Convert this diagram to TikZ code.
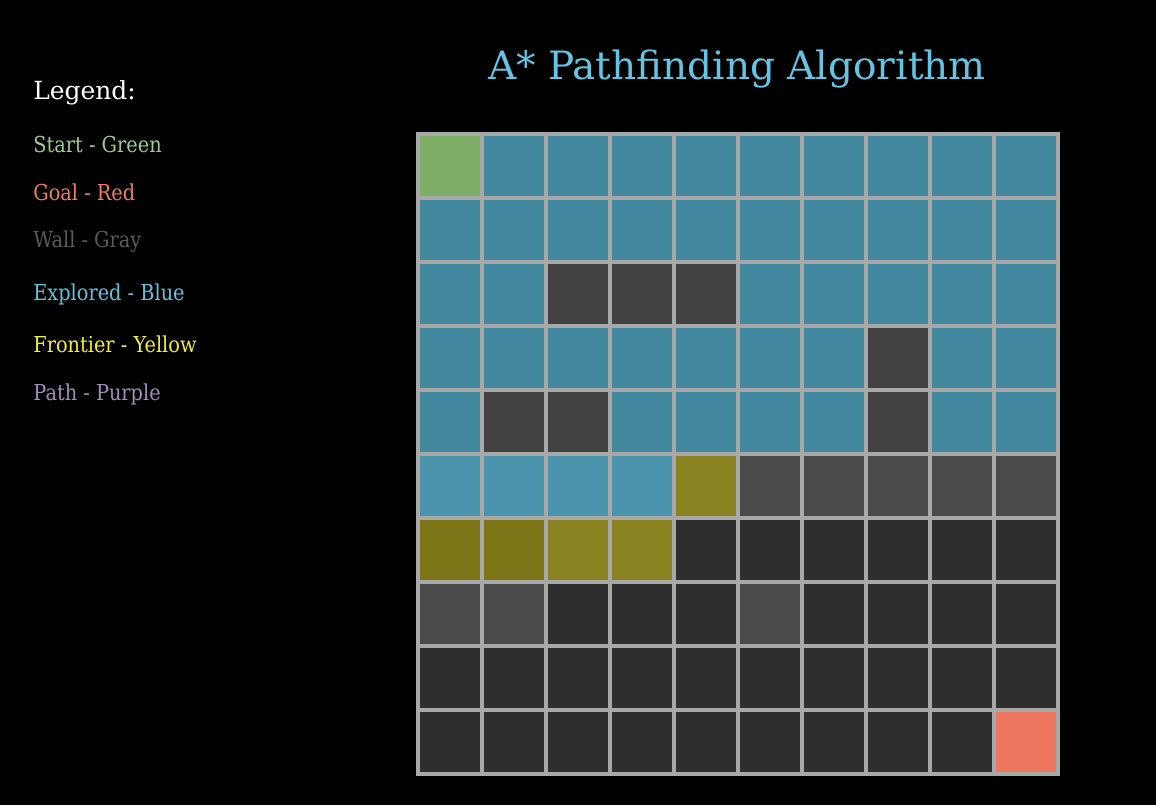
\documentclass[tikz,border=0pt]{standalone}
\usepackage{fontspec}
\setmainfont{DejaVu Serif}
\newfontfamily\legfont[FakeStretch=0.88]{DejaVu Serif}
\usepackage{xcolor}
\definecolor{titleblue}{HTML}{63C5E3}
\definecolor{gridline}{HTML}{A8A8A8}
\definecolor{txtstart}{HTML}{9ECC8A}
\definecolor{txtgoal}{HTML}{F47A62}
\definecolor{txtwall}{HTML}{5A5A5A}
\definecolor{txtexpl}{HTML}{62C3E0}
\definecolor{txtfront}{HTML}{F4F02A}
\definecolor{txtpath}{HTML}{A48CBA}
\definecolor{cellS}{HTML}{7EAE68}
\definecolor{cellE}{HTML}{41879E}
\definecolor{cellL}{HTML}{4A95AD}
\definecolor{cellW}{HTML}{424242}
\definecolor{cellG}{HTML}{4A4A4A}
\definecolor{cellU}{HTML}{2E2E2E}
\definecolor{cellF}{HTML}{888220}
\definecolor{cellD}{HTML}{7B7516}
\definecolor{cellR}{HTML}{EE7760}

\begin{document}
\begin{tikzpicture}[x=0.02cm,y=-0.02cm,
  cell/.style={draw=gridline,line width=2.3pt},
  legitem/.style={anchor=base west,inner sep=0pt,font=\legfont\fontsize{12.5}{14}\selectfont}]
  \fill[black] (0,0) rectangle (1156,805);
  \useasboundingbox (0,0) rectangle (1156,805);
  \node[titleblue,anchor=base,inner sep=0pt,font=\fontsize{22.2}{25}\selectfont] (title) at (737,79) {A* Pathfinding Algorithm};
  % legend
  \node[anchor=base west,inner sep=0pt,white,font=\fontsize{14.2}{16}\selectfont] (leghead) at (33,99) {Legend:};
  \node[legitem,txtstart] (legstart) at (33,152) {Start - Green};
  \node[legitem,txtgoal] (leggoal) at (33,200) {Goal - Red};
  \node[legitem,txtwall] (legwall) at (33,247) {Wall - Gray};
  \node[legitem,txtexpl] (legexpl) at (33,300) {Explored - Blue};
  \node[legitem,txtfront] (legfront) at (33,352) {Frontier - Yellow};
  \node[legitem,txtpath] (legpath) at (33,400) {Path - Purple};
  % grid, row by row from the top
  \foreach \row [count=\r from 0] in {
      {S,E,E,E,E,E,E,E,E,E},
      {E,E,E,E,E,E,E,E,E,E},
      {E,E,W,W,W,E,E,E,E,E},
      {E,E,E,E,E,E,E,W,E,E},
      {E,W,W,E,E,E,E,W,E,E},
      {L,L,L,L,F,G,G,G,G,G},
      {D,D,F,F,U,U,U,U,U,U},
      {G,G,U,U,U,G,U,U,U,U},
      {U,U,U,U,U,U,U,U,U,U},
      {U,U,U,U,U,U,U,U,U,R}}
    \foreach \c [count=\k from 0] in \row
      \draw[cell,fill=cell\c] (418+64*\k,134+64*\r) rectangle ++(64,64);
\end{tikzpicture}
\end{document}
